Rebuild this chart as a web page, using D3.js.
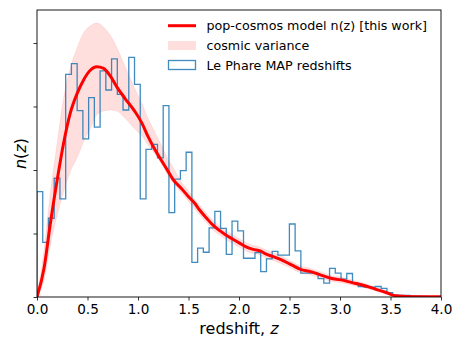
<!DOCTYPE html>
<html><head><meta charset="utf-8">
<script src="https://cdn.jsdelivr.net/npm/d3@7"></script>
<style>
html,body{margin:0;padding:0;background:#fff;}
svg{display:block;font-family:"DejaVu Sans",sans-serif;}
</style></head>
<body><svg id="chart" width="463" height="348"></svg>
<script>
// ---- data ----
const xTicks = [0.0, 0.5, 1.0, 1.5, 2.0, 2.5, 3.0, 3.5, 4.0];
const yTicks = [0, 0.2, 0.4, 0.6, 0.8];
const histRange = [0, 3.862];
const histValues = [0.332,0.172,0.248,0.374,0.309,0.701,0.735,0.587,0.498,0.628,
  0.535,0.712,0.652,0.750,0.638,0.589,0.755,0.670,0.309,0.465,
  0.481,0.438,0.603,0.266,0.371,0.398,0.456,0.109,0.154,0.141,
  0.218,0.270,0.216,0.134,0.239,0.208,0.122,0.122,0.140,0.080,
  0.120,0.144,0.132,0.132,0.230,0.145,0.075,0.075,0.075,0.058,
  0.044,0.090,0.075,0.056,0.074,0.044,0.033,0.031,0.031,0.033,
  0.027,0.014,0.006,0.005,0.005,0.003,0.003,0.002];
const modelZ = [0,0.07,0.13,0.20,0.26,0.33,0.40,0.46,0.53,0.59,0.66,0.73,0.79,0.87,0.97,1.04,1.10,1.17,1.24,1.30,1.35,1.43,1.50,1.56,
  1.61,1.68,1.74,1.81,1.87,1.94,2.01,2.07,2.14,2.21,2.27,2.34,2.42,2.52,2.61,2.71,2.81,2.91,3.01,3.11,3.22,3.35,3.45,3.52,3.58,3.75,4.00];
const modelN = [0,0.091,0.227,0.369,0.479,0.580,0.643,0.683,0.715,0.725,0.720,0.694,0.662,0.626,0.584,0.547,0.505,0.463,0.426,0.395,0.369,0.342,0.316,0.296,
  0.274,0.248,0.227,0.209,0.195,0.182,0.169,0.158,0.150,0.145,0.135,0.127,0.117,0.101,0.087,0.080,0.069,0.059,0.054,0.046,0.038,0.025,0.015,0.006,0.003,0.001,0.0005];
const bandLo = [0,0.054,0.161,0.258,0.328,0.395,0.441,0.488,0.532,0.573,0.586,0.589,0.586,0.564,0.529,0.507,0.479,0.450,0.416,0.381,0.359,0.328,0.302,0.277,
  0.259,0.233,0.212,0.195,0.181,0.168,0.156,0.145,0.137,0.133,0.123,0.115,0.105,0.090,0.076,0.070,0.059,0.050,0.045,0.038,0.031,0.019,0.010,0.003,0.001,0,0];
const bandHi = [0,0.148,0.321,0.485,0.620,0.721,0.787,0.831,0.854,0.863,0.850,0.822,0.786,0.728,0.655,0.608,0.562,0.517,0.472,0.433,0.406,0.362,0.334,0.309,
  0.289,0.263,0.242,0.223,0.209,0.196,0.182,0.171,0.163,0.157,0.147,0.139,0.129,0.112,0.098,0.090,0.079,0.068,0.063,0.054,0.045,0.031,0.020,0.009,0.005,0.002,0.001];
const legendLabels = ["pop-cosmos model n(z) [this work]", "cosmic variance", "Le Phare MAP redshifts"];

// ---- layout ----
const M = {left:37, right:441, top:10, bottom:297};
const svg = d3.select("#chart");
const x = d3.scaleLinear().domain([0,4]).range([M.left, M.right]);
const y = d3.scaleLinear().domain([0,0.904]).range([M.bottom, M.top]);

svg.append("defs").append("clipPath").attr("id","clip")
  .append("rect").attr("x",M.left).attr("y",M.top).attr("width",M.right-M.left).attr("height",M.bottom-M.top);
const g = svg.append("g").attr("clip-path","url(#clip)");

// band
const band = modelZ.map((z,i)=>({z, lo:bandLo[i], hi:bandHi[i]}));
g.append("path").datum(band)
  .attr("d", d3.area().x(d=>x(d.z)).y0(d=>y(d.lo)).y1(d=>y(d.hi)).curve(d3.curveMonotoneX))
  .attr("fill","#ff0000").attr("fill-opacity",0.13)
  .attr("stroke","#ff0000").attr("stroke-opacity",0.08).attr("stroke-width",1);

// histogram step
const nb = histValues.length;
const w = (histRange[1]-histRange[0])/nb;
const pts = [[histRange[0],0]];
histValues.forEach((v,i)=>{ pts.push([histRange[0]+i*w, v]); pts.push([histRange[0]+(i+1)*w, v]); });
pts.push([histRange[1],0]);
g.append("path").datum(pts)
  .attr("d", d3.line().x(d=>x(d[0])).y(d=>y(d[1])))
  .attr("fill","none").attr("stroke","#1f77b4").attr("stroke-opacity",0.85).attr("stroke-width",1.3)
  .attr("stroke-linejoin","miter");

// model line
g.append("path").datum(modelZ.map((z,i)=>[z, modelN[i]]))
  .attr("d", d3.line().x(d=>x(d[0])).y(d=>y(d[1])).curve(d3.curveMonotoneX))
  .attr("fill","none").attr("stroke","#ff0000").attr("stroke-width",3).attr("stroke-linejoin","round");

// axes
const xAxis = svg.append("g").attr("transform",`translate(0,${M.bottom})`)
  .call(d3.axisBottom(x).tickValues(xTicks).tickFormat(d3.format(".1f")).tickSizeOuter(0).tickSize(3.5).tickPadding(3.5));
xAxis.select(".domain").remove();
xAxis.selectAll("text").attr("font-size","13.6px").attr("font-family","DejaVu Sans").attr("fill","#000");
xAxis.selectAll("line").attr("stroke","#000").attr("stroke-width",0.8);
const yAxis = svg.append("g").attr("transform",`translate(${M.left},0)`)
  .call(d3.axisLeft(y).tickValues(yTicks).tickFormat("").tickSizeOuter(0).tickSize(3.5));
yAxis.select(".domain").remove();
yAxis.selectAll("line").attr("stroke","#000").attr("stroke-width",0.8);

svg.append("rect").attr("x",M.left).attr("y",M.top).attr("width",M.right-M.left).attr("height",M.bottom-M.top)
  .attr("fill","none").attr("stroke","#000").attr("stroke-width",0.9);

// axis labels
const xl = svg.append("text").attr("x",(M.left+M.right)/2).attr("y",333.5).attr("text-anchor","middle")
  .attr("font-size","16px").attr("fill","#000");
xl.append("tspan").text("redshift, ");
xl.append("tspan").attr("font-style","italic").text("z");
const yl = svg.append("text").attr("transform",`translate(26,${(M.top+M.bottom)/2}) rotate(-90)`)
  .attr("text-anchor","middle").attr("font-size","16px").attr("fill","#000");
yl.append("tspan").attr("font-style","italic").text("n");
yl.append("tspan").text("(");
yl.append("tspan").attr("font-style","italic").text("z");
yl.append("tspan").text(")");

// legend
const lg = svg.append("g");
const rowY = [25.7, 45.5, 65];
lg.append("line").attr("x1",168).attr("x2",196).attr("y1",rowY[0]).attr("y2",rowY[0])
  .attr("stroke","#ff0000").attr("stroke-width",3);
lg.append("rect").attr("x",168).attr("y",rowY[1]-4.5).attr("width",28).attr("height",9)
  .attr("fill","#ff0000").attr("fill-opacity",0.13);
lg.append("rect").attr("x",168.5).attr("y",rowY[2]-4.5).attr("width",27).attr("height",9)
  .attr("fill","none").attr("stroke","#1f77b4").attr("stroke-opacity",0.85).attr("stroke-width",1.3);
legendLabels.forEach((t,i)=>{
  lg.append("text").attr("x",206.5).attr("y",rowY[i]+4.5).attr("font-size","12.7px").attr("fill","#000").text(t);
});
</script></body></html>
